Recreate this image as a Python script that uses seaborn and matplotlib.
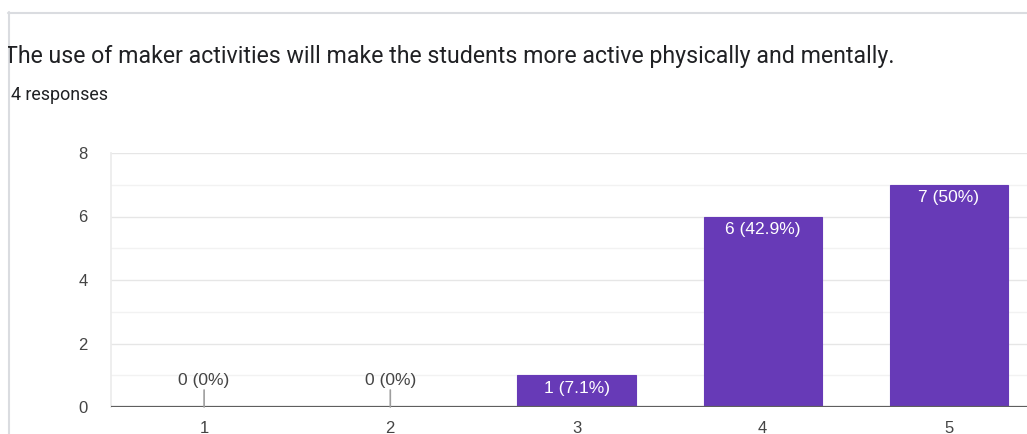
import matplotlib
matplotlib.use("Agg")
import matplotlib.pyplot as plt
import seaborn as sns

# Survey results
title = "The use of maker activities will make the students more active physically and mentally."
subtitle = "14 responses"
categories = ["1", "2", "3", "4", "5"]
counts = [0, 0, 1, 6, 7]
labels = ["0 (0%)", "0 (0%)", "1 (7.1%)", "6 (42.9%)", "7 (50%)"]
y_ticks = [0, 2, 4, 6, 8]

W, H = 1027, 434
sns.set_theme(style="white")
plt.rcParams["font.family"] = ["Liberation Sans", "DejaVu Sans"]

fig = plt.figure(figsize=(W / 100, H / 100), dpi=100)
fig.patch.set_facecolor("white")

# Card background in pixel units (y grows downward)
card = fig.add_axes([8 / W, 0, 1 - 8 / W, (H - 12) / H])
card.set_xlim(0, W - 8)
card.set_ylim(H - 12, 0)
card.axis("off")
card.plot([0, W], [0.5, 0.5], color="#dadce0", lw=1.5, clip_on=False)
card.plot([0.5, 0.5], [0, H], color="#dadce0", lw=1.5, clip_on=False)
card.text(-4, 44, title, fontsize=16.7, color="#202124", family=["Roboto", "DejaVu Sans"],
          va="center", ha="left", clip_on=True)
card.text(-7, 83, subtitle, fontsize=12.9, color="#202124", family=["Roboto", "DejaVu Sans"],
          va="center", ha="left", clip_on=True)

# Chart area
left_px, right_px = 111, 1042
top_px, bottom_px = 153, 407
ax = fig.add_axes([left_px / W, (H - bottom_px) / H,
                   (right_px - left_px) / W, (bottom_px - top_px) / H])
ax.set_facecolor("none")

sns.barplot(x=categories, y=counts, color="#673ab7", saturation=1, width=0.634,
            edgecolor="#673ab7", linewidth=0.8, ax=ax, zorder=3)

ax.set_ylim(0, 8)
ax.set_xlim(-0.5, len(categories) - 0.5)
ax.set_yticks(y_ticks)
ax.set_yticks([1, 3, 5, 7], minor=True)
ax.grid(axis="y", which="major", color="#e6e6e6", lw=1, zorder=0)
ax.grid(axis="y", which="minor", color="#f2f2f2", lw=1, zorder=0)
ax.grid(axis="x", visible=False)
for s in ["top", "right", "bottom"]:
    ax.spines[s].set_visible(False)
ax.spines["left"].set_color("#ececec")
ax.axhline(0, color="#5f5f5f", lw=1.6, zorder=4)

ax.tick_params(axis="y", length=0, pad=17, labelsize=12, colors="#444444")
ax.tick_params(axis="x", length=0, pad=10, labelsize=12, colors="#444444")
ax.set_xlabel("")
ax.set_ylabel("")

for i, (v, lab) in enumerate(zip(counts, labels)):
    if v == 0:
        ax.annotate("", xy=(i, 0), xytext=(0, 17), textcoords="offset pixels",
                    arrowprops=dict(arrowstyle="-", color="#9e9e9e", lw=1.2,
                                    shrinkA=0, shrinkB=0), zorder=5)
        ax.annotate(lab, xy=(i, 0), xytext=(0, 26), textcoords="offset pixels",
                    ha="center", va="center", fontsize=12.5, color="#444444")
    else:
        ax.annotate(lab, xy=(i, v), xytext=(0, -13), textcoords="offset pixels",
                    ha="center", va="center", fontsize=12.5, color="white", zorder=6)

fig.savefig("out.png", dpi=100, facecolor="white")
